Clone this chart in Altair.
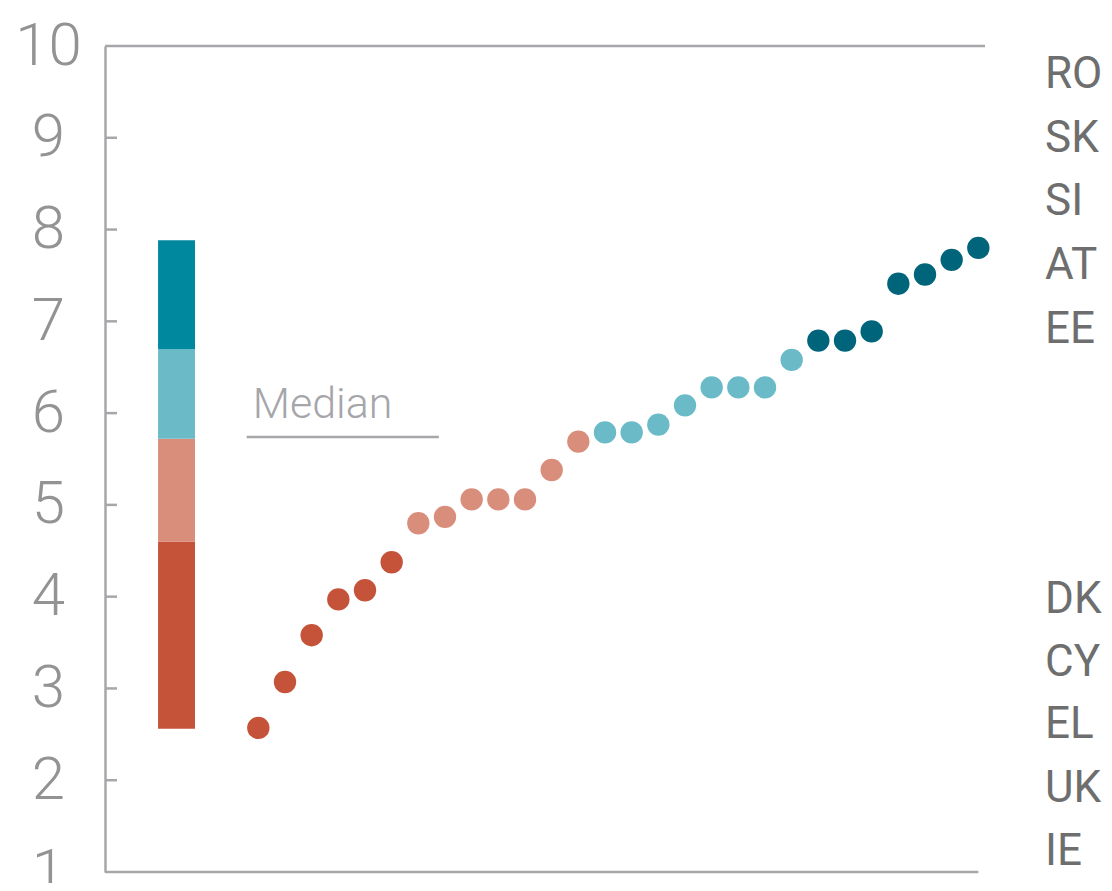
import altair as alt
import pandas as pd

# ---- data ----
dot_values = [2.57, 3.07, 3.58, 3.97, 4.07, 4.375, 4.80, 4.87, 5.06, 5.06, 5.06, 5.38, 5.69,
              5.79, 5.79, 5.875, 6.085, 6.28, 6.28, 6.28, 6.58, 6.79, 6.79, 6.89, 7.41, 7.51, 7.67, 7.80]
dot_groups = ["Q1"] * 6 + ["Q2"] * 7 + ["Q3"] * 8 + ["Q4"] * 7

band_groups = ["Q1", "Q2", "Q3", "Q4"]
band_low = [2.56, 4.60, 5.72, 6.695]
band_high = [4.60, 5.72, 6.695, 7.884]
band_colors = ["#C4533A", "#D98E7B", "#6ABAC7", "#00889F"]
dot_colors = ["#C4533A", "#D98E7B", "#6ABAC7", "#00647A"]

median_value = 5.74
median_label = "Median"

top_labels = ["RO", "SK", "SI", "AT", "EE"]
top_label_y = [9.54, 8.84, 8.155, 7.458, 6.76]
bottom_labels = ["DK", "CY", "EL", "UK", "IE"]
bottom_label_y = [3.82, 3.14, 2.457, 1.76, 1.074]

y_ticks = [1, 2, 3, 4, 5, 6, 7, 8, 9, 10]

# ---- layout ----
X0, X1 = -4.75, 28.25
xs = alt.Scale(domain=[X0, X1], nice=False, zero=False)
ys = alt.Scale(domain=[1, 10], nice=False, zero=False)
AX = "#A7A7AB"
FONT = "Roboto, Open Sans, sans-serif"

dots = pd.DataFrame({"i": list(range(1, len(dot_values) + 1)), "v": dot_values, "g": dot_groups})
bands = pd.DataFrame({"g": band_groups, "lo": band_low, "hi": band_high,
                      "x": [-2.76] * 4, "x2": [-1.375] * 4})
labels = pd.DataFrame({"t": top_labels + bottom_labels, "y": top_label_y + bottom_label_y,
                       "x": [30.5] * 10})
ticks = pd.DataFrame({"y": y_ticks[1:-1], "x": [X0] * 8, "x2": [X0 + 0.45] * 8})
frame = pd.DataFrame({"y": [1, 10], "x": [X0, X0], "x2": [28.0, 28.25]})
median = pd.DataFrame({"y": [median_value], "x": [0.563], "x2": [7.77], "t": [median_label],
                       "ty": [5.95], "tx": [0.79]})

base_axis = alt.Axis(values=y_ticks, format="d", ticks=False, tickSize=0, grid=False, domain=True,
                     domainColor=AX, domainWidth=2.5, labelAlign="center", labelBaseline="middle",
                     labelPadding=57, labelFontSize=60, labelFontWeight=300, labelColor="#939393",
                     labelFont=FONT, title=None)

band_layer = alt.Chart(bands).mark_rect().encode(
    x=alt.X("x:Q", scale=xs, axis=None), x2="x2:Q",
    y=alt.Y("lo:Q", scale=ys, axis=base_axis), y2="hi:Q",
    color=alt.Color("g:N", scale=alt.Scale(domain=band_groups, range=band_colors), legend=None),
)

frame_layer = alt.Chart(frame).mark_rule(color=AX, strokeWidth=2.5).encode(
    x=alt.X("x:Q", scale=xs), x2="x2:Q", y=alt.Y("y:Q", scale=ys)
)
tick_layer = alt.Chart(ticks).mark_rule(color=AX, strokeWidth=2.5).encode(
    x=alt.X("x:Q", scale=xs), x2="x2:Q", y=alt.Y("y:Q", scale=ys)
)
median_line = alt.Chart(median).mark_rule(color=AX, strokeWidth=2.5).encode(
    x=alt.X("x:Q", scale=xs), x2="x2:Q", y=alt.Y("y:Q", scale=ys)
)
median_text = alt.Chart(median).mark_text(
    align="left", baseline="alphabetic", fontSize=43, fontWeight=300, color="#A5A5AA", font=FONT
).encode(x=alt.X("tx:Q", scale=xs), y=alt.Y("ty:Q", scale=ys), text="t:N")

dot_layer = alt.Chart(dots).mark_circle(size=500, opacity=1).encode(
    x=alt.X("i:Q", scale=xs), y=alt.Y("v:Q", scale=ys),
    color=alt.Color("g:N", scale=alt.Scale(domain=band_groups, range=dot_colors), legend=None),
)

label_layer = alt.Chart(labels).mark_text(
    align="left", baseline="alphabetic", fontSize=44, color="#6E6E6E", font=FONT, clip=False
).encode(x=alt.X("x:Q", scale=xs), y=alt.Y("y:Q", scale=ys), text="t:N")

chart = alt.layer(
    band_layer, frame_layer, tick_layer, median_line, median_text, dot_layer, label_layer
).resolve_scale(color="independent").properties(
    width=880, height=826,
    padding={"left": 97, "top": 38, "right": 119, "bottom": 11},
    autosize=alt.AutoSizeParams(type="none"),
).configure_view(stroke=None)

chart.save("out.html", embed_options={"renderer": "svg", "actions": False})
